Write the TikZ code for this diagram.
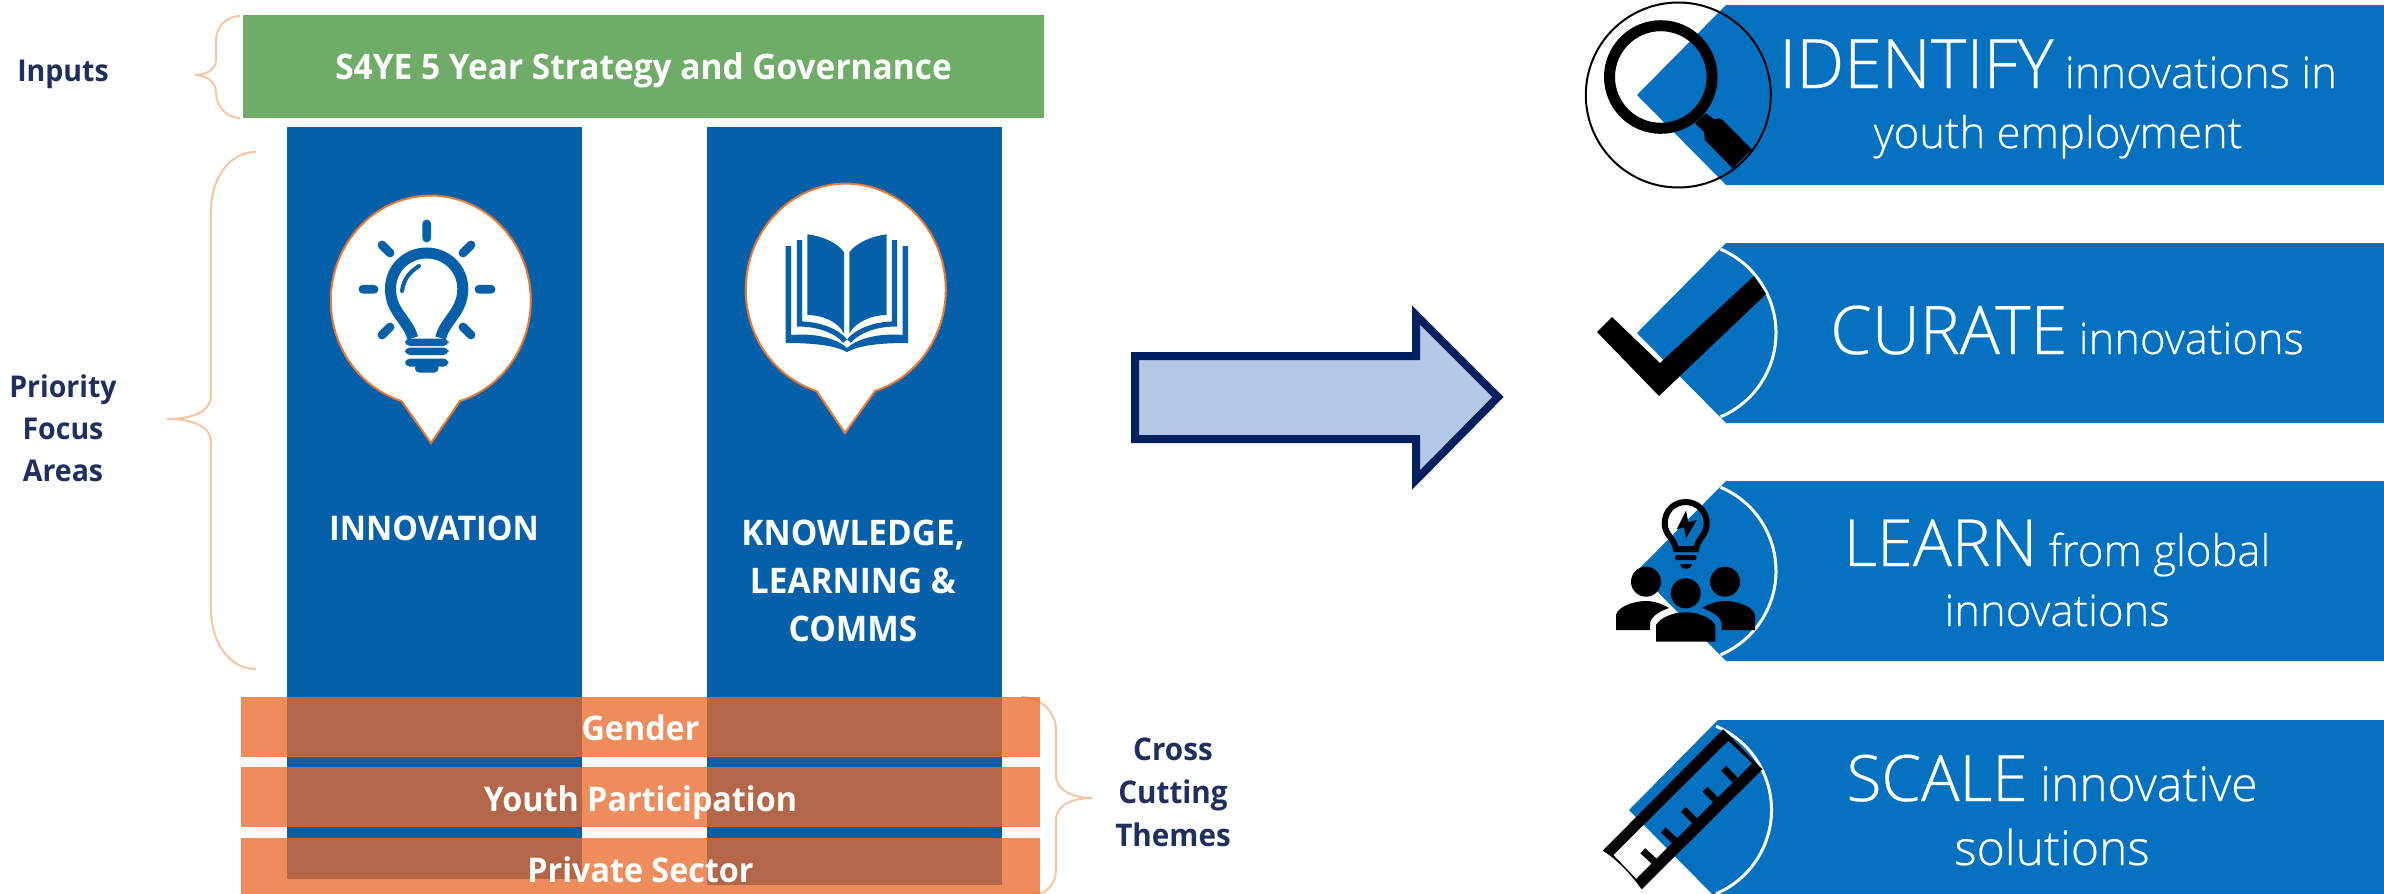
\documentclass[tikz,border=0pt]{standalone}
\usepackage{fontspec}
\setmainfont[FakeStretch=0.95]{Open Sans}
\newfontfamily\lightfont[FakeBold=0.4]{Open Sans Light}
\usetikzlibrary{backgrounds}
\pgfdeclarelayer{edgelayer}
\pgfdeclarelayer{nodelayer}
\pgfsetlayers{edgelayer,nodelayer,main}
\definecolor{colblue}{HTML}{0660A9}
\definecolor{barorange}{RGB}{233,105,43}
\definecolor{stratgreen}{HTML}{6FAC68}
\definecolor{labelnavy}{HTML}{1F2F5F}
\definecolor{bracepeach}{HTML}{F6C6A4}
\definecolor{pinorange}{HTML}{E87A33}
\definecolor{bannerblue}{HTML}{0370C0}
\definecolor{arrowfill}{HTML}{B4C7E7}
\definecolor{arrowline}{HTML}{002060}
\tikzset{font=\bfseries}
\tikzstyle{none}=[inner sep=0pt]
\tikzstyle{sidelabel}=[text=labelnavy,align=center,font=\bfseries\fontsize{15}{21}\selectfont]
\tikzstyle{whitelabel}=[text=white,align=center,font=\bfseries\fontsize{17}{24}\selectfont]
\tikzstyle{column}=[fill=colblue,inner sep=0pt,minimum width=147.5pt]
\tikzstyle{themebar}=[fill=barorange,fill opacity=.77,text opacity=1,text=white,inner sep=0pt,minimum width=399.5pt,minimum height=30pt,text height=14pt,text depth=0pt,font=\bfseries\fontsize{17}{24}\selectfont]
\tikzstyle{brace}=[bracepeach,line width=1pt]
\tikzstyle{pin}=[fill=white,draw=pinorange,line width=1pt]
\tikzstyle{bannertext}=[text=white,align=center,anchor=base,font=\lightfont\fontsize{21.8}{30}\selectfont]
\newcommand{\bigword}[2][32]{{\fontsize{#1}{30}\selectfont #2}}

\begin{document}
\begin{tikzpicture}[x=0.5pt,y=0.5pt]
	\useasboundingbox (0,0) rectangle (2384,-894);
	\begin{pgfonlayer}{nodelayer}
		% left block
		\node [style=column,minimum height=376pt] (0) at (434.5,-503) {};
		\node [style=column,minimum height=379pt] (1) at (854,-506) {};
		\node [fill=stratgreen,text=white,inner sep=0pt,minimum width=400.5pt,minimum height=51.5pt,text height=13pt,text depth=0pt,font=\bfseries\fontsize{17.6}{24}\selectfont] (2) at (643.5,-66) {S4YE 5 Year Strategy and Governance};
		\draw [style=pin] (460,-401) arc (-73:253:100 and 105) -- (431,-443) -- cycle;
		\draw [style=pin] (875,-391) arc (-73:253:100 and 106) -- (845,-433) -- cycle;
		% bulb
		\draw [colblue,line width=4.4pt,line cap=round] (426.7,-224) -- (426.7,-238) (382,-245) -- (390,-253) (471,-245) -- (463,-253) (363,-289.3) -- (374,-289.3) (479,-289.3) -- (491,-289.3) (390,-327) -- (382,-335) (463,-327) -- (471,-335);
		\draw [colblue,line width=5.5pt] (412.7,-338) .. controls (408,-320) and (390.5,-312) .. (390.5,-289) .. controls (390.5,-268) and (407,-253) .. (426.7,-253) .. controls (446,-253) and (462.8,-268) .. (462.8,-289) .. controls (462.8,-312) and (445,-320) .. (440.7,-338);
		\draw [colblue,line width=2pt,line cap=round] (402,-291) .. controls (404,-278) and (410,-272) .. (419,-266);
		\fill [colblue,rounded corners=2.5pt] (405,-338.5) rectangle (448.5,-346) (405,-347.5) rectangle (448.5,-355) (405,-358.5) rectangle (448.5,-366.7);
		\fill [colblue,rounded corners=2pt] (415,-364) rectangle (438.5,-372.5);
		% book
		\fill [colblue] (807.3,-234.3) .. controls (822,-236) and (838,-243) .. (844,-252.3) -- (844,-333.3) .. controls (838,-322) and (823,-315) .. (807.3,-315) -- cycle;
		\fill [colblue] (886.7,-234.3) .. controls (872,-236) and (856,-243) .. (849.3,-252.3) -- (849.3,-333.3) .. controls (856,-322) and (871,-315) .. (886.7,-315) -- cycle;
		\draw [colblue,line width=2.6pt] (799.5,-240) -- (799.5,-324) .. controls (820,-324) and (838,-332) .. (845,-341);
		\draw [colblue,line width=2.6pt] (894.5,-240) -- (894.5,-324) .. controls (874,-324) and (856,-332) .. (849,-341);
		\fill [colblue] (785.7,-246) -- (791,-246) -- (791,-335) .. controls (815,-333) and (836,-338) .. (847,-348) .. controls (858,-338) and (880,-333) .. (902.7,-335) -- (902.7,-246) -- (908,-246) -- (908,-343) .. controls (880,-343) and (860,-345) .. (847,-352) .. controls (834,-345) and (812,-343) .. (785.7,-343) -- cycle;
		% themes
		\node [style=themebar] (3) at (640.5,-726.5) {Gender};
		\node [style=themebar] (4) at (640.5,-797) {Youth Participation};
		\node [style=themebar] (5) at (640.5,-868) {Private Sector};
		\node [style=whitelabel] (6) at (434,-528) {INNOVATION};
		\node [style=whitelabel,font=\bfseries\fontsize{17.6}{24}\selectfont] (7) at (853,-581) {KNOWLEDGE,\\LEARNING \&\\COMMS};
		\node [style=sidelabel] (8) at (63,-74) {Inputs};
		\node [style=sidelabel] (9) at (63,-428) {Priority\\Focus\\Areas};
		\node [style=sidelabel,font=\bfseries\fontsize{15.6}{21.5}\selectfont] (10) at (1173,-792) {Cross\\Cutting\\Themes};
		% brace ends
		\node [style=none] (11) at (240,-16) {};
		\node [style=none] (12) at (216,-40) {};
		\node [style=none] (13) at (216,-60) {};
		\node [style=none] (14) at (195,-75) {};
		\node [style=none] (15) at (216,-92) {};
		\node [style=none] (16) at (240,-118) {};
		\node [style=none] (17) at (256,-152) {};
		\node [style=none] (18) at (211,-210) {};
		\node [style=none] (19) at (211,-395) {};
		\node [style=none] (20) at (167,-419) {};
		\node [style=none] (21) at (211,-443) {};
		\node [style=none] (22) at (211,-610) {};
		\node [style=none] (23) at (256,-669) {};
		\node [style=none] (24) at (1021,-697) {};
		\node [style=none] (25) at (1056,-730) {};
		\node [style=none] (26) at (1056,-775) {};
		\node [style=none] (27) at (1092,-798) {};
		\node [style=none] (28) at (1056,-820) {};
		\node [style=none] (29) at (1056,-870) {};
		\node [style=none] (30) at (1035,-894) {};
		% banners
		\foreach \x/\y in {1637/-95,1637/-333,1637/-571,1629/-810} {
			\fill [bannerblue,shift={(\x,\y)}] (89,90) -- (770,90) -- (770,-90) -- (89,-90) -- (0,0) -- cycle;
		}
		\foreach \x/\y in {1685/-333,1685/-571,1680.5/-810} {
			\draw [white,line width=1.5pt,shift={(\x,\y)}] (67:91) arc (67:-67:91);
		}
		\draw [black,line width=1pt] (1678.3,-95) circle (92.5);
		% magnifier
		\draw [black,line width=5.5pt] (1660.8,-77) circle (51.3);
		\fill [black] (1706,-113.3) -- (1695,-123.3) -- (1704,-131.7) -- (1705,-140) -- (1732.7,-168.3) -- (1751.7,-149.3) -- (1723.3,-120.7) .. controls (1720,-118) and (1717,-118) .. (1714,-119.3) -- cycle;
		% check mark
		\fill [black] (1597,-332) -- (1612,-317) -- (1660,-363) -- (1754,-276) -- (1766,-294) -- (1659,-396) -- cycle;
		% idea and people
		\draw [black,line width=3pt] (1676,-549) .. controls (1674,-538) and (1664.7,-535) .. (1664.7,-523.3) .. controls (1664.7,-511) and (1674,-502) .. (1685.7,-502) .. controls (1697,-502) and (1706.7,-511) .. (1706.7,-523.3) .. controls (1706.7,-535) and (1698,-538) .. (1696,-549) -- cycle;
		\fill [black] (1686,-510.7) -- (1676.7,-529.3) -- (1684,-527.3) -- (1686,-538.3) -- (1696.7,-520) -- (1688.3,-522.3) -- cycle;
		\fill [black,rounded corners=1.2pt] (1675,-555) rectangle (1696.7,-560);
		\fill [black] (1680,-564) -- (1692,-564) .. controls (1691,-568) and (1688,-569) .. (1686,-569) .. controls (1684,-569) and (1681,-568) .. (1680,-564) -- cycle;
		\fill [black] (1646,-581.7) circle (15) (1725,-581.7) circle (15) (1685.7,-593.3) circle (15);
		\fill [black] (1616,-630) -- (1616,-615) .. controls (1618,-606) and (1635,-601) .. (1646,-601) .. controls (1654,-601) and (1662,-604) .. (1669,-608) .. controls (1658,-612) and (1650,-617) .. (1650,-625) -- (1650,-630) -- cycle;
		\fill [black] (1755,-630) -- (1755,-615) .. controls (1753,-606) and (1736,-601) .. (1725,-601) .. controls (1717,-601) and (1709,-604) .. (1702,-608) .. controls (1713,-612) and (1721.7,-617) .. (1721.7,-625) -- (1721.7,-630) -- cycle;
		\fill [black] (1656,-641.7) -- (1656,-625) .. controls (1660,-618) and (1672,-612.3) .. (1685.7,-612.3) .. controls (1699,-612.3) and (1711,-618) .. (1715.3,-625) -- (1715.3,-641.7) -- cycle;
		% ruler
		\fill [black,even odd rule] (1602.7,-850.7) .. controls (1618,-860) and (1632,-876) .. (1641.7,-889.3) -- (1762.3,-769.3) -- (1723.3,-729.3) -- cycle (1613.3,-855) .. controls (1620,-862) and (1628,-870) .. (1636,-879) -- (1752.3,-763.3) -- (1728.3,-740.7) -- cycle;
		\draw [black,line width=3.5pt] (1642.7,-850.7) -- (1655,-862) (1663.3,-830) -- (1675,-841) (1683.3,-809.3) -- (1695,-821) (1705,-789.3) -- (1716.7,-801) (1723.7,-768.3) -- (1735,-780);
		% banner text
		\node [style=bannertext] (31) at (2058,-148) {\bigword[34]{IDENTIFY} innovations in\\youth employment};
		\node [style=bannertext] (32) at (2067,-354) {\bigword[33.5]{CURATE} innovations};
		\node [style=bannertext] (33) at (2057,-626) {\bigword[32.5]{LEARN} from global\\innovations};
		\node [style=bannertext,font=\lightfont\fontsize{24}{32}\selectfont] (34) at (2052,-865) {\bigword{SCALE} innovative\\solutions};
		% block arrow
		\draw [arrowline,fill=arrowfill,line width=4pt,miter limit=10] (1135,-356) -- (1416,-356) -- (1416,-315) -- (1498,-397) -- (1416,-480) -- (1416,-439) -- (1135,-439) -- cycle;
	\end{pgfonlayer}
	\begin{pgfonlayer}{edgelayer}
		\draw [style=brace,in=90,out=180] (11.center) to (12.center);
		\draw [style=brace] (12.center) to (13.center);
		\draw [style=brace,in=0,out=-90] (13.center) to (14.center);
		\draw [style=brace,in=90,out=0] (14.center) to (15.center);
		\draw [style=brace,in=180,out=-90] (15.center) to (16.center);
		\draw [style=brace,in=90,out=180] (17.center) to (18.center);
		\draw [style=brace] (18.center) to (19.center);
		\draw [style=brace,in=0,out=-90] (19.center) to (20.center);
		\draw [style=brace,in=90,out=0] (20.center) to (21.center);
		\draw [style=brace] (21.center) to (22.center);
		\draw [style=brace,in=180,out=-90] (22.center) to (23.center);
		\draw [style=brace,in=90,out=0] (24.center) to (25.center);
		\draw [style=brace] (25.center) to (26.center);
		\draw [style=brace,in=180,out=-90] (26.center) to (27.center);
		\draw [style=brace,in=90,out=180] (27.center) to (28.center);
		\draw [style=brace] (28.center) to (29.center);
		\draw [style=brace,in=0,out=-90] (29.center) to (30.center);
	\end{pgfonlayer}
\end{tikzpicture}
\end{document}
